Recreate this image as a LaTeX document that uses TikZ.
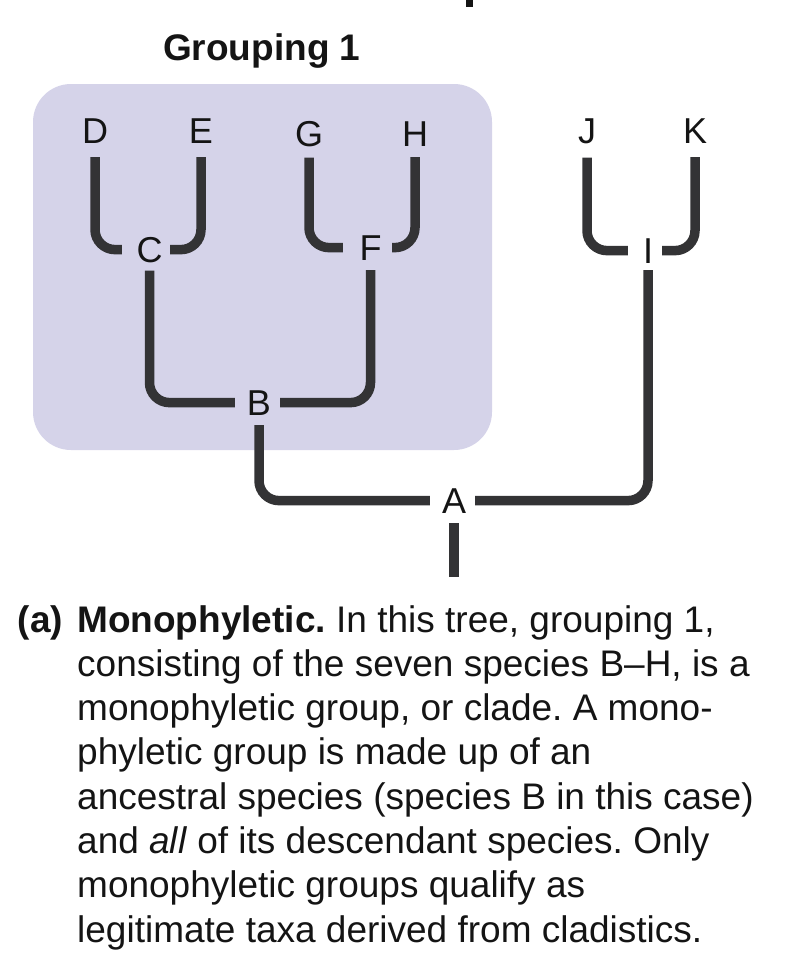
\documentclass[tikz,border=0pt]{standalone}
\usepackage{fontspec}
\setmainfont{Liberation Sans}
\definecolor{grp}{RGB}{213,211,233}
\definecolor{branch}{RGB}{51,51,53}
\definecolor{ink}{RGB}{20,20,20}
\frenchspacing
\begin{document}
\begin{tikzpicture}[x=1pt,y=-1pt,
  lab/.style={inner sep=0pt,anchor=base,text=ink,font=\fontsize{36}{40}\selectfont},
  br/.style={draw=branch,line width=9.5pt,line cap=butt,rounded corners=20pt},
  capline/.style={inner sep=0pt,anchor=base west,text=ink,font=\fontsize{37}{44}\selectfont},
  grouptitle/.style={inner sep=0pt,anchor=base west,text=ink,font=\fontsize{37}{44}\selectfont\bfseries}]
\useasboundingbox (0,0) rectangle (798,958);
% cut-off fragment at the top edge
\fill[ink] (466,0) rectangle (473,7);
% grouping background
\fill[grp,rounded corners=38pt] (33,84) rectangle (492,450);
\node[grouptitle] (title) at (163,60) {Grouping 1};
% taxa
\node[lab] (D) at (95,143) {D};
\node[lab] (E) at (201,143) {E};
\node[lab] (G) at (309,146) {G};
\node[lab] (H) at (415,146) {H};
\node[lab] (J) at (587,143) {J};
\node[lab] (K) at (695,143) {K};
\node[lab] (C) at (149.5,262) {C};
\node[lab] (F) at (370.5,260) {F};
\node[lab] (I) at (648,263) {I};
\node[lab] (B) at (259,415) {B};
\node[lab] (A) at (454,513) {A};
\coordinate (root) at (454,577);
% branches
\draw[br,shorten <=14pt,shorten >=14.5pt] (D.south) |- (C.west);
\draw[br,shorten <=14pt,shorten >=7.5pt] (E.south) |- (C.east);
\draw[br,shorten <=11pt,shorten >=16.5pt] (G.south) |- (F.west);
\draw[br,shorten <=11pt,shorten >=10.5pt] (H.south) |- (F.east);
\draw[br,shorten <=8pt,shorten >=12pt] (C.south) |- (B.west);
\draw[br,shorten <=10pt,shorten >=9pt] (F.south) |- (B.east);
\draw[br,shorten <=14pt,shorten >=15pt] (J.south) |- (I.west);
\draw[br,shorten <=14pt,shorten >=9pt] (K.south) |- (I.east);
\draw[br,shorten <=10pt,shorten >=12pt] (B.south) |- (A.west);
\draw[br,shorten <=9pt,shorten >=7pt] (A.east) -| (I.south);
\draw[br,shorten <=10pt] (A.south) -- (root);
% caption
\node[capline] (cA) at (17.5,632) {\bfseries (a)};
\node[capline] (c1) at (77,632) {\textbf{Monophyletic.} In this tree, grouping 1,};
\node[capline] (c2) at (77,676.3) {consisting of the seven species B\textendash H, is a};
\node[capline] (c3) at (77,720.6) {monophyletic group, or clade. A mono-};
\node[capline] (c4) at (77,764.9) {phyletic group is made up of an};
\node[capline] (c5) at (77,809.2) {ancestral species (species B in this case)};
\node[capline] (c6) at (77,853.5) {and \textit{all} of its descendant species. Only};
\node[capline] (c7) at (77,897.8) {monophyletic groups qualify as};
\node[capline] (c8) at (77,942) {legitimate taxa derived from cladistics.};
\end{tikzpicture}
\end{document}
